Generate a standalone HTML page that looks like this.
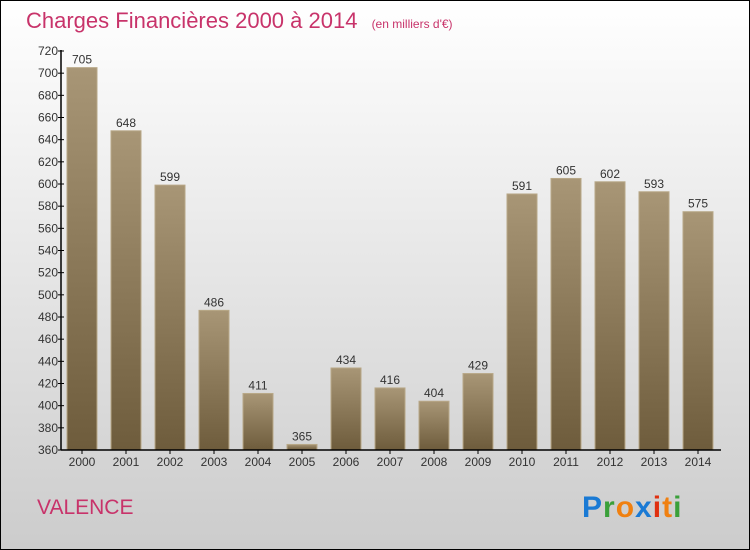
<!DOCTYPE html>
<html><head><meta charset="utf-8"><style>
body{margin:0}
#c{width:750px;height:550px;position:relative;font-family:"Liberation Sans",sans-serif;overflow:hidden}
</style></head><body>
<div id="c">
<svg width="750" height="550">
<defs>
<linearGradient id="bg" x1="0" y1="0" x2="0" y2="1"><stop offset="0" stop-color="#ffffff"/><stop offset="1" stop-color="#cccccc"/></linearGradient>
<linearGradient id="bar" x1="0" y1="0" x2="0" y2="1"><stop offset="0" stop-color="#a89676"/><stop offset="1" stop-color="#6e5c3c"/></linearGradient>
</defs>
<rect x="0.5" y="0.5" width="749" height="549" fill="url(#bg)" stroke="#000"/>
<text x="26" y="28" font-size="22" fill="#c8336a">Charges Financières 2000 à 2014 <tspan font-size="12" dx="8">(en milliers d'€)</tspan></text>
<g id="bars"></g>
<g id="axes"></g>
<text x="37" y="514" font-size="21" fill="#c8336a">VALENCE</text>
<text x="582" y="517" font-size="30" font-weight="bold" letter-spacing="1"><tspan fill="#1a7ad4">P</tspan><tspan fill="#3aa03a">r</tspan><tspan fill="#f08010">o</tspan><tspan fill="#1a7ad4">x</tspan><tspan fill="#e03010">i</tspan><tspan fill="#f08010">t</tspan><tspan fill="#3aa03a">i</tspan></text>
</svg>
</div>
<script>
const years=["2000","2001","2002","2003","2004","2005","2006","2007","2008","2009","2010","2011","2012","2013","2014"];
const values=[705,648,599,486,411,365,434,416,404,429,591,605,602,593,575];
const yTicks=[360,380,400,420,440,460,480,500,520,540,560,580,600,620,640,660,680,700,720];
const NS="http://www.w3.org/2000/svg";
const y0=450,y1=51,vmin=360,vmax=720,ax=61,axR=721,slot=44;
const y=v=>y0-(v-vmin)/(vmax-vmin)*(y0-y1);
const x=i=>67+i*slot;
function mk(t,a,p){const e=document.createElementNS(NS,t);for(const k in a)e.setAttribute(k,a[k]);p.appendChild(e);return e;}
const gb=document.getElementById('bars'),ga=document.getElementById('axes');
values.forEach((v,i)=>{
 const r=mk('rect',{x:x(i),y:y(v),width:30,height:y0-y(v),fill:'url(#bar)',stroke:'#b8a888','stroke-width':1},gb);
 
 
 const t=mk('text',{x:x(i)+15,y:y(v)-4,'font-size':12,'text-anchor':'middle',fill:'#333'},gb);
 t.textContent=v;
 
 
 const xl=mk('text',{x:x(i)+15,y:466,'font-size':12,'text-anchor':'middle',fill:'#333'},ga);
 xl.textContent=years[i];
 
 
 const xt=mk('line',{x1:x(i)+15,x2:x(i)+15,y1:y0,y2:y0+4,stroke:'#000'},ga);
 
 
});
yTicks.forEach(v=>{
 const l=mk('line',{x1:ax-3,x2:ax+3,y1:y(v),y2:y(v),stroke:'#000'},ga);
 
 
 const t=mk('text',{x:ax-3,y:y(v)+4,'font-size':12,'text-anchor':'end',fill:'#333'},ga);
 t.textContent=v;
 
 
});
const ya=mk('line',{x1:ax,x2:ax,y1:y1-1,y2:y0,stroke:'#000','stroke-width':1.5},ga);


const xa=mk('line',{x1:ax,x2:axR,y1:y0,y2:y0,stroke:'#000','stroke-width':1.5},ga);


</script>
</body></html>
